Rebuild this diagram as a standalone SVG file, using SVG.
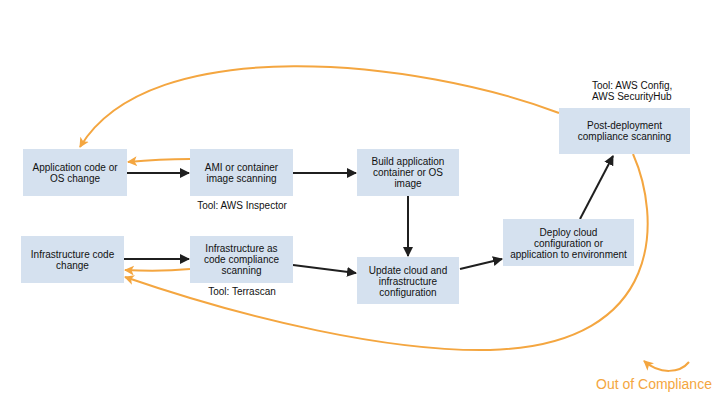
<svg xmlns="http://www.w3.org/2000/svg" width="720" height="405" viewBox="0 0 720 405">
  <defs>
    <style>
      .box { fill: #d5e1ef; }
      .lbl { font-family: "Liberation Sans", Arial, sans-serif; font-size: 10px; fill: #111; text-anchor: middle; }
      .note { font-family: "Liberation Sans", Arial, sans-serif; font-size: 10px; fill: #111; }
      .flow { fill: none; stroke: #1f1f1f; stroke-width: 2; }
      .back { fill: none; stroke: #f4a640; stroke-width: 2; }
      .warn { font-family: "Liberation Sans", Arial, sans-serif; font-size: 14px; fill: #f4a640; }
    </style>
    <marker id="arrow-black" viewBox="0 0 10 10" refX="9" refY="5" markerWidth="5" markerHeight="5" orient="auto" markerUnits="strokeWidth">
      <path d="M0,0 L10,5 L0,10 z" fill="#1f1f1f"/>
    </marker>
    <marker id="arrow-orange" viewBox="0 0 10 10" refX="9" refY="5" markerWidth="5" markerHeight="5" orient="auto" markerUnits="strokeWidth">
      <path d="M0,0 L10,5 L0,10 L2.5,5 z" fill="#f4a640"/>
    </marker>
  </defs>

  <rect width="720" height="405" fill="#ffffff"/>

  <!-- connectors -->
  <g id="connectors">
    <line class="flow" x1="127" y1="173" x2="189" y2="173" marker-end="url(#arrow-black)"/>
    <line class="flow" x1="293" y1="173" x2="356" y2="173" marker-end="url(#arrow-black)"/>
    <line class="flow" x1="408" y1="195" x2="408" y2="256" marker-end="url(#arrow-black)"/>
    <line class="flow" x1="124" y1="259" x2="189" y2="259" marker-end="url(#arrow-black)"/>
    <line class="flow" x1="293" y1="265" x2="356" y2="273" marker-end="url(#arrow-black)"/>
    <line class="flow" x1="460" y1="269" x2="502" y2="259" marker-end="url(#arrow-black)"/>
    <line class="flow" x1="580" y1="219" x2="613" y2="156" marker-end="url(#arrow-black)"/>

    <path class="back" d="M190,159 Q160,159 128,162" marker-end="url(#arrow-orange)"/>
    <path class="back" d="M190,269 Q160,272 125,270" marker-end="url(#arrow-orange)"/>
    <path class="back" d="M559,113 C420,60 150,30 80,147" marker-end="url(#arrow-orange)"/>
    <path class="back" d="M633,154 C660,215 668,345 490,350 C390,352 250,320 125,277" marker-end="url(#arrow-orange)"/>
    <path class="back" d="M689,362 C680,373 660,375 644,361" marker-end="url(#arrow-orange)"/>
  </g>

  <g id="app-change">
    <rect class="box" x="23" y="149" width="104" height="47"/>
    <text class="lbl" x="75" y="170.5">Application code or</text>
    <text class="lbl" x="75" y="181.5">OS change</text>
  </g>

  <g id="image-scan">
    <rect class="box" x="190" y="149" width="103" height="47"/>
    <text class="lbl" x="241.5" y="170.5">AMI or container</text>
    <text class="lbl" x="241.5" y="181.5">image scanning</text>
  </g>

  <g id="build-image">
    <rect class="box" x="357" y="149" width="102" height="47"/>
    <text class="lbl" x="408" y="164.5">Build application</text>
    <text class="lbl" x="408" y="175.5">container or OS</text>
    <text class="lbl" x="408" y="186.5">image</text>
  </g>

  <g id="post-deploy-scan">
    <rect class="box" x="559" y="108" width="131" height="46"/>
    <text class="lbl" x="624.5" y="128.5">Post-deployment</text>
    <text class="lbl" x="624.5" y="139.5">compliance scanning</text>
  </g>

  <g id="infra-change">
    <rect class="box" x="21" y="236" width="103" height="47"/>
    <text class="lbl" x="72.5" y="257.5">Infrastructure code</text>
    <text class="lbl" x="72.5" y="268.5">change</text>
  </g>

  <g id="iac-scan">
    <rect class="box" x="190" y="236" width="103" height="47"/>
    <text class="lbl" x="241.5" y="251.5">Infrastructure as</text>
    <text class="lbl" x="241.5" y="262.5">code compliance</text>
    <text class="lbl" x="241.5" y="273.5">scanning</text>
  </g>

  <g id="update-config">
    <rect class="box" x="357" y="257" width="102" height="47"/>
    <text class="lbl" x="408" y="273.5">Update cloud and</text>
    <text class="lbl" x="408" y="284.5">infrastructure</text>
    <text class="lbl" x="408" y="295.5">configuration</text>
  </g>

  <g id="deploy">
    <rect class="box" x="503" y="219" width="131" height="47"/>
    <text class="lbl" x="568.5" y="235.5">Deploy cloud</text>
    <text class="lbl" x="568.5" y="246.5">configuration or</text>
    <text class="lbl" x="568.5" y="257.5">application to environment</text>
  </g>

  <!-- tool notes -->
  <g id="notes">
    <text class="lbl" x="242" y="208.5">Tool: AWS Inspector</text>
    <text class="lbl" x="242" y="294.5">Tool: Terrascan</text>
    <text class="note" x="592" y="88.5">Tool: AWS Config,</text>
    <text class="note" x="592" y="99.5">AWS SecurityHub</text>
    <text class="warn" x="596" y="389">Out of Compliance</text>
  </g>
</svg>
